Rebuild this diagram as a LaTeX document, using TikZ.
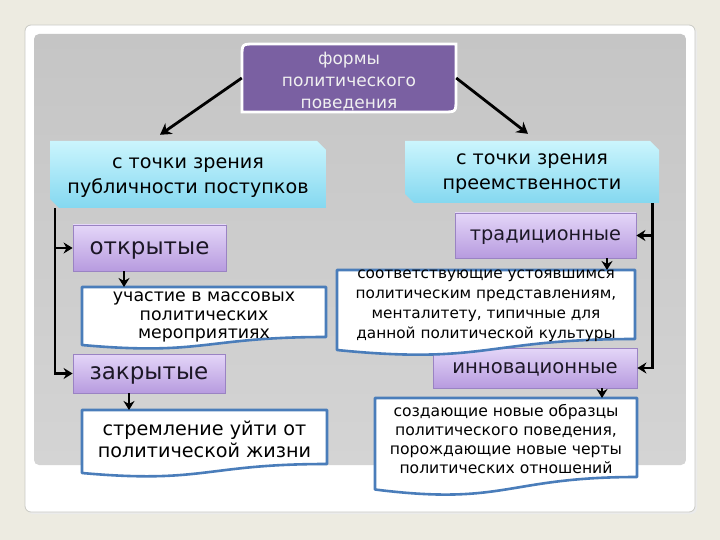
\documentclass[tikz,border=0pt]{standalone}
\usepackage{fontspec}
\setmainfont{DejaVu Sans}
\usetikzlibrary{arrows.meta,calc}
\definecolor{pagebg}{HTML}{EDEBE1}
\definecolor{frameedge}{HTML}{C9C9C4}
\definecolor{paneltop}{HTML}{C5C5C5}
\definecolor{panelbot}{HTML}{D4D4D4}
\definecolor{violetdark}{HTML}{7A60A2}
\definecolor{lavtop}{HTML}{E4D6F8}
\definecolor{lavbot}{HTML}{B79BDF}
\definecolor{lavedge}{HTML}{9A83C3}
\definecolor{cyantop}{HTML}{CBF5FD}
\definecolor{cyanbot}{HTML}{84D8F0}
\definecolor{docedge}{HTML}{4A7DBA}
\definecolor{inkdark}{HTML}{1C1726}
\tikzset{
  arr/.style={draw=black, line width=2.6pt, -{Stealth[length=9pt,width=11pt]}},
  bigarr/.style={draw=black, line width=2.8pt, -{Stealth[length=11pt,width=13pt]}},
  lavbox/.style={draw=lavedge, line width=0.8pt, top color=lavtop, bottom color=lavbot,
    inner sep=0pt, text=inkdark, text depth=0pt},
  cyanfill/.style={top color=cyantop, bottom color=cyanbot},
  docfill/.style={fill=white, draw=docedge, line width=2.6pt, line join=round},
  txt/.style={inner sep=0pt, align=center, text=black},
}
\begin{document}
\begin{tikzpicture}[x=1pt,y=-1pt]
\useasboundingbox (0,0) rectangle (720,540);
% background
\fill[pagebg] (0,0) rectangle (720,540);
\fill[black!8, rounded corners=6pt] (27,27) rectangle (697,514);
\draw[frameedge, line width=0.8pt, fill=white, rounded corners=6pt] (25,25) rectangle (695,512);
\shade[top color=paneltop, bottom color=panelbot, rounded corners=5pt] (34,34) rectangle (686,465);

% top node
\draw[white, line width=2.8pt, fill=violetdark]
  (242,112) -- (242,57) .. controls (242,44) .. (255,44) -- (456,44)
  -- (456,99) .. controls (456,112) .. (443,112) -- cycle;
\node[txt, text=white!94!black, minimum width=214pt, minimum height=68pt,
  font=\fontsize{17}{22}\selectfont] (top) at (349,78) {};
\node[txt, text=white!94!black, font=\fontsize{17}{22}\selectfont] (toptext) at (349,81)
  {формы\\политического\\поведения};

% cyan boxes
\path[cyanfill] (50,141) -- (317,141) -- (326,150) -- (326,208) -- (59,208) -- (50,199) -- cycle;
\node[minimum width=276pt, minimum height=67pt, inner sep=0pt] (pub) at (188,174.5) {};
\node[txt, font=\fontsize{19.2}{25}\selectfont] (pubtext) at (188,177.5)
  {с точки зрения\\публичности поступков};
\path[cyanfill] (405,141) -- (650,141) -- (659,150) -- (659,203) -- (414,203) -- (405,194) -- cycle;
\node[minimum width=254pt, minimum height=62pt, inner sep=0pt] (pre) at (532,172) {};
\node[txt, font=\fontsize{19.2}{25}\selectfont] (pretext) at (532,174)
  {с точки зрения\\преемственности};

% lavender boxes
\node[lavbox, minimum width=153pt, minimum height=46pt,
  font=\fontsize{23}{26}\selectfont] (otk) at (149.5,248) {открытые};
\node[lavbox, minimum width=152pt, minimum height=39pt,
  font=\fontsize{23}{26}\selectfont] (zak) at (149,373.5) {закрытые};
\node[lavbox, minimum width=181pt, minimum height=45pt,
  font=\fontsize{19.3}{23}\selectfont] (trad) at (545.5,235.5) {традиционные};
\node[lavbox, minimum width=204pt, minimum height=40pt,
  font=\fontsize{19.6}{23}\selectfont] (inn) at (535,368) {инновационные};

% document boxes
\draw[docfill] (82,287) -- (326,287) -- (326,337)
  .. controls (204,337) and (204,356) .. (82,345) -- cycle;
\node[txt, font=\fontsize{17.4}{18.5}\selectfont] (uch) at (204,317)
  {участие в массовых\\политических\\мероприятиях};
\coordinate (uchtop) at (204,287);

\draw[docfill] (82,410) -- (327,410) -- (327,464)
  .. controls (204.5,464) and (204.5,484) .. (82,473) -- cycle;
\node[txt, font=\fontsize{19.2}{22}\selectfont] (str) at (204.5,439)
  {стремление уйти от\\политической жизни};
\coordinate (strtop) at (204.5,410);

\draw[docfill] (337,270) -- (635,270) -- (635,339)
  .. controls (486,339) and (486,365) .. (337,350) -- cycle;
\node[txt, font=\fontsize{15.3}{20}\selectfont] (sootv) at (486,306)
  {соответствующие устоявшимся\\политическим представлениям,\\менталитету, типичные для\\данной политической культуры};
\coordinate (sootvtop) at (486,270);

\draw[docfill] (375,398) -- (637,398) -- (637,477)
  .. controls (506,477) and (506,506) .. (375,489.5) -- cycle;
\node[txt, font=\fontsize{15.6}{19}\selectfont] (sozd) at (506,439.5)
  {создающие новые образцы\\политического поведения,\\порождающие новые черты\\политических отношений};
\coordinate (sozdtop) at (506,398);

% connectors from top
\draw[bigarr] (top.west) -- ($(pub.north)+(-28,-6)$);
\draw[bigarr] (top.east) -- ($(pre.north)+(-4,-7)$);

% side trunks
\coordinate (lt) at ($(pub.south west)+(5,0)$);
\coordinate (rt) at ($(pre.south east)+(-7,0)$);
\draw[arr] (lt) |- (otk.west);
\draw[arr] (lt) |- (zak.west);
\draw[arr] (rt) |- (trad.east);
\draw[arr] (rt) |- (inn.east);

% short down arrows
\coordinate (d1) at ($(otk.south)+(-25.5,0)$);
\draw[arr] (d1) -- (d1 |- uchtop);
\coordinate (d2) at ($(zak.south)+(-20,0)$);
\draw[arr] (d2) -- (d2 |- strtop);
\coordinate (d3) at ($(trad.south)+(61.5,0)$);
\draw[arr] (d3) -- (d3 |- sootvtop);
\coordinate (d4) at ($(inn.south)+(67,0)$);
\draw[arr] (d4) -- (d4 |- sozdtop);
\end{tikzpicture}
\end{document}
